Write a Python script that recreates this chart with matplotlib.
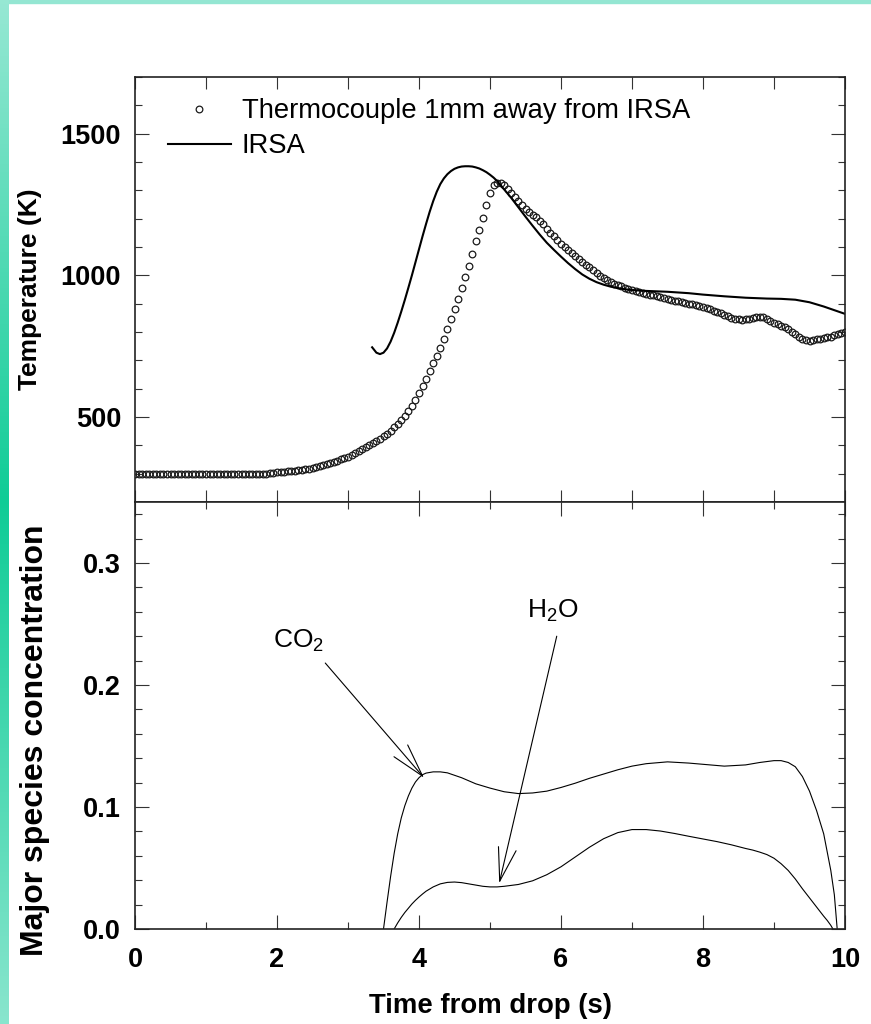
import numpy as np
import matplotlib.pyplot as plt
from matplotlib.ticker import MultipleLocator, FormatStrFormatter

plt.rcParams['font.family'] = ['Liberation Sans', 'DejaVu Sans']
plt.rcParams['mathtext.default'] = 'regular'

# Thermocouple record, sampled every 0.05 s from 0 to 10 s
tc_time = np.round(np.arange(201) * 0.05, 2)
tc_temp = [
    300, 300, 300, 300, 300, 300, 300, 300, 300, 300,
    300, 300, 300, 300, 300, 300, 300, 300, 300, 300,
    300, 300, 300, 300, 300, 300, 300, 300, 300, 300,
    300, 300, 300, 300, 300, 300, 300, 300, 301, 303,
    305, 306, 307, 308, 309, 311, 312, 314, 316, 318,
    321, 324, 327, 330, 334, 338, 342, 346, 351, 355,
    360, 366, 372, 379, 386, 393, 400, 407, 415, 423,
    432, 441, 452, 463, 475, 489, 505, 522, 540, 561,
    585, 609, 635, 662, 690, 717, 745, 777, 810, 845,
    880, 917, 955, 993, 1032, 1075, 1120, 1160, 1202, 1250,
    1292, 1320, 1327, 1325, 1318, 1305, 1292, 1278, 1263, 1248,
    1235, 1225, 1214, 1205, 1193, 1180, 1165, 1151, 1138, 1125,
    1112, 1099, 1088, 1078, 1068, 1058, 1048, 1038, 1028, 1018,
    1008, 998, 990, 983, 977, 971, 966, 961, 956, 952,
    948, 944, 940, 937, 934, 932, 929, 926, 923, 920,
    917, 914, 911, 909, 906, 903, 900, 898, 895, 893,
    890, 886, 880, 875, 870, 866, 861, 856, 851, 847,
    845, 844, 845, 847, 850, 853, 854, 852, 847, 840,
    833, 827, 822, 817, 810, 801, 792, 784, 777, 772,
    770, 771, 774, 777, 779, 781, 784, 788, 792, 797,
    800,
]

# IRSA temperature
irsa_time = [3.34, 3.40, 3.45, 3.50, 3.55, 3.60, 3.65, 3.70, 3.75, 3.80,
             3.85, 3.90, 3.95, 4.00, 4.05, 4.10, 4.15, 4.20, 4.25, 4.30,
             4.35, 4.40, 4.45, 4.50, 4.55, 4.60, 4.65, 4.70, 4.75, 4.80,
             4.85, 4.90, 4.95, 5.00, 5.05, 5.10, 5.15, 5.20, 5.30, 5.40,
             5.50, 5.60, 5.70, 5.80, 5.90, 6.00, 6.10, 6.20, 6.30, 6.40,
             6.50, 6.60, 6.70, 6.80, 6.90, 7.00, 7.20, 7.50, 7.80, 8.00,
             8.30, 8.60, 8.90, 9.10, 9.30, 9.50, 9.70, 9.85, 10.00]
irsa_temp = [746, 727, 722, 727, 742, 766, 797, 833, 872, 913,
             956, 1000, 1046, 1092, 1138, 1182, 1224, 1262, 1295, 1322,
             1342, 1357, 1368, 1376, 1381, 1384, 1385, 1385, 1384, 1381,
             1377, 1371, 1364, 1355, 1345, 1333, 1318, 1303, 1273, 1240,
             1207, 1175, 1144, 1115, 1090, 1066, 1043, 1022, 1003, 988,
             976, 967, 960, 955, 951, 948, 945, 942, 937, 932,
             926, 921, 918, 917, 914, 905, 890, 877, 864]

# Species mole fractions
co2_time = [3.50, 3.55, 3.60, 3.65, 3.70, 3.75, 3.80, 3.85, 3.90, 3.95,
            4.00, 4.05, 4.10, 4.20, 4.30, 4.40, 4.50, 4.60, 4.70, 4.80,
            5.00, 5.20, 5.40, 5.60, 5.80, 6.00, 6.20, 6.40, 6.60, 6.80,
            7.00, 7.20, 7.50, 7.80, 8.00, 8.30, 8.60, 8.80, 9.00, 9.10,
            9.20, 9.30, 9.40, 9.50, 9.60, 9.70, 9.80, 9.85, 9.89]
co2_conc = [0.0, 0.022, 0.043, 0.062, 0.078, 0.091, 0.101, 0.109, 0.1155, 0.1205,
            0.124, 0.1265, 0.1278, 0.1288, 0.1288, 0.128, 0.126, 0.124, 0.1215, 0.119,
            0.1155, 0.1125, 0.111, 0.1115, 0.113, 0.116, 0.1195, 0.1235, 0.127, 0.1305,
            0.1335, 0.1355, 0.137, 0.136, 0.135, 0.1335, 0.1345, 0.1365, 0.138, 0.138,
            0.1365, 0.133, 0.125, 0.113, 0.097, 0.078, 0.048, 0.028, 0.0]

h2o_time = [3.65, 3.70, 3.75, 3.80, 3.85, 3.90, 3.95, 4.00, 4.05, 4.10,
            4.20, 4.30, 4.40, 4.50, 4.60, 4.70, 4.80, 4.90, 5.00, 5.10,
            5.20, 5.40, 5.60, 5.80, 6.00, 6.20, 6.40, 6.60, 6.80, 7.00,
            7.20, 7.40, 7.60, 7.80, 8.00, 8.20, 8.40, 8.60, 8.70, 8.80,
            8.90, 9.00, 9.10, 9.20, 9.30, 9.40, 9.50, 9.60, 9.70, 9.75,
            9.80, 9.83]
h2o_conc = [0.0, 0.005, 0.0095, 0.0135, 0.017, 0.0205, 0.0235, 0.0262, 0.0287, 0.031,
            0.0345, 0.037, 0.0382, 0.0385, 0.038, 0.037, 0.036, 0.035, 0.0345, 0.0345,
            0.035, 0.0365, 0.0395, 0.0445, 0.051, 0.059, 0.067, 0.074, 0.079, 0.0815,
            0.0815, 0.0803, 0.0783, 0.076, 0.0738, 0.0716, 0.069, 0.066, 0.0647, 0.063,
            0.061, 0.058, 0.0535, 0.048, 0.041, 0.033, 0.0255, 0.018, 0.0105, 0.007,
            0.003, 0.0]

W, H = 871, 1024
fig = plt.figure(figsize=(W / 100, H / 100), dpi=100)
fig.patch.set_facecolor('white')

# mint frame along the left and top edges
strip = fig.add_axes([0, 0, 8 / W, 1])
shade = np.interp(np.linspace(0, 1, 256), [0, 0.49, 1], [0, 1, 0.1])[:, None]
light = np.array([0.59, 0.91, 0.83])
deep = np.array([0.06, 0.80, 0.59])
strip.imshow(light + (deep - light) * shade[:, :, None], aspect='auto')
strip.set_axis_off()
fig.patches.append(plt.Rectangle((0, 1 - 3 / H), 1, 3 / H, transform=fig.transFigure,
                                 color='#94e6d2', zorder=-1))

ax_t = fig.add_axes([135 / W, 1 - 502 / H, 710 / W, 425 / H])
ax_b = fig.add_axes([135 / W, 1 - 929 / H, 710 / W, 427 / H])


def style_axes(ax):
    for s in ax.spines.values():
        s.set_linewidth(1.2)
        s.set_color('#222222')
    ax.tick_params(which='both', direction='in', top=True, right=True,
                   width=0.8, color='#333333', pad=10)
    ax.tick_params(which='major', length=10)
    ax.tick_params(which='minor', length=5)
    ax.set_xlim(0, 10)


# temperature panel
ax_t.plot(tc_time, tc_temp, 'o', ms=4.8, mfc='none', mec='#1a1a1a', mew=0.9,
          label='Thermocouple 1mm away from IRSA')
ax_t.plot(irsa_time, irsa_temp, '-', color='black', lw=1.5, label='IRSA')
style_axes(ax_t)
ax_t.set_ylim(200, 1700)
ax_t.xaxis.set_major_locator(MultipleLocator(1))
ax_t.tick_params(axis='x', which='major', length=8.5)
ax_t.set_xticklabels([])
ax_t.yaxis.set_minor_locator(MultipleLocator(100))
ax_t.set_yticks([500, 1000, 1500])
ax_t.set_yticklabels(['500', '1000', '1500'], fontsize=19.5, fontweight='bold')
ax_t.set_ylabel('Temperature (K)', fontsize=19, fontweight='bold', va='center')
ax_t.yaxis.set_label_coords((30 - 135) / 710, 0.5)
ax_t.legend(loc='upper left', bbox_to_anchor=(0.0465, 0.950), frameon=False,
            fontsize=19.7, handlelength=2.3, handletextpad=0.4, labelspacing=0.33,
            borderpad=0, borderaxespad=0)

# species panel
ax_b.plot(co2_time, co2_conc, '-', color='black', lw=0.8)
ax_b.plot(h2o_time, h2o_conc, '-', color='black', lw=0.8)
style_axes(ax_b)
ax_b.set_ylim(0, 0.35)
ax_b.xaxis.set_major_locator(MultipleLocator(2))
ax_b.xaxis.set_minor_locator(MultipleLocator(1))
ax_b.yaxis.set_major_locator(MultipleLocator(0.1))
ax_b.yaxis.set_minor_locator(MultipleLocator(0.02))
ax_b.yaxis.set_major_formatter(FormatStrFormatter('%.1f'))
ax_b.tick_params(axis='x', pad=13)
for lab in ax_b.get_xticklabels() + ax_b.get_yticklabels():
    lab.set_fontsize(19.5)
    lab.set_fontweight('bold')
ax_b.set_ylabel('Major species concentration', fontsize=23, fontweight='bold',
                va='center')
ax_b.yaxis.set_label_coords((35 - 135) / 710, (929 - 740) / 427)
ax_b.set_xlabel('Time from drop (s)', fontsize=19.8, fontweight='bold', va='center')
ax_b.xaxis.set_label_coords(0.5, (929 - 1006) / 427)

arrow = dict(arrowstyle='->,head_length=24,head_width=6.5', mutation_scale=1,
             lw=0.8, color='black', shrinkA=0, shrinkB=0)
ax_b.annotate('', xy=(4.07, 0.124), xytext=(2.68, 0.218), arrowprops=arrow)
ax_b.annotate('', xy=(5.13, 0.0375), xytext=(5.94, 0.240), arrowprops=arrow)
ax_b.text(2.30, 0.236, r'CO$_2$', fontsize=19, ha='center', va='center')
ax_b.text(5.89, 0.261, r'H$_2$O', fontsize=19, ha='center', va='center')

fig.savefig('out.png', dpi=100)
